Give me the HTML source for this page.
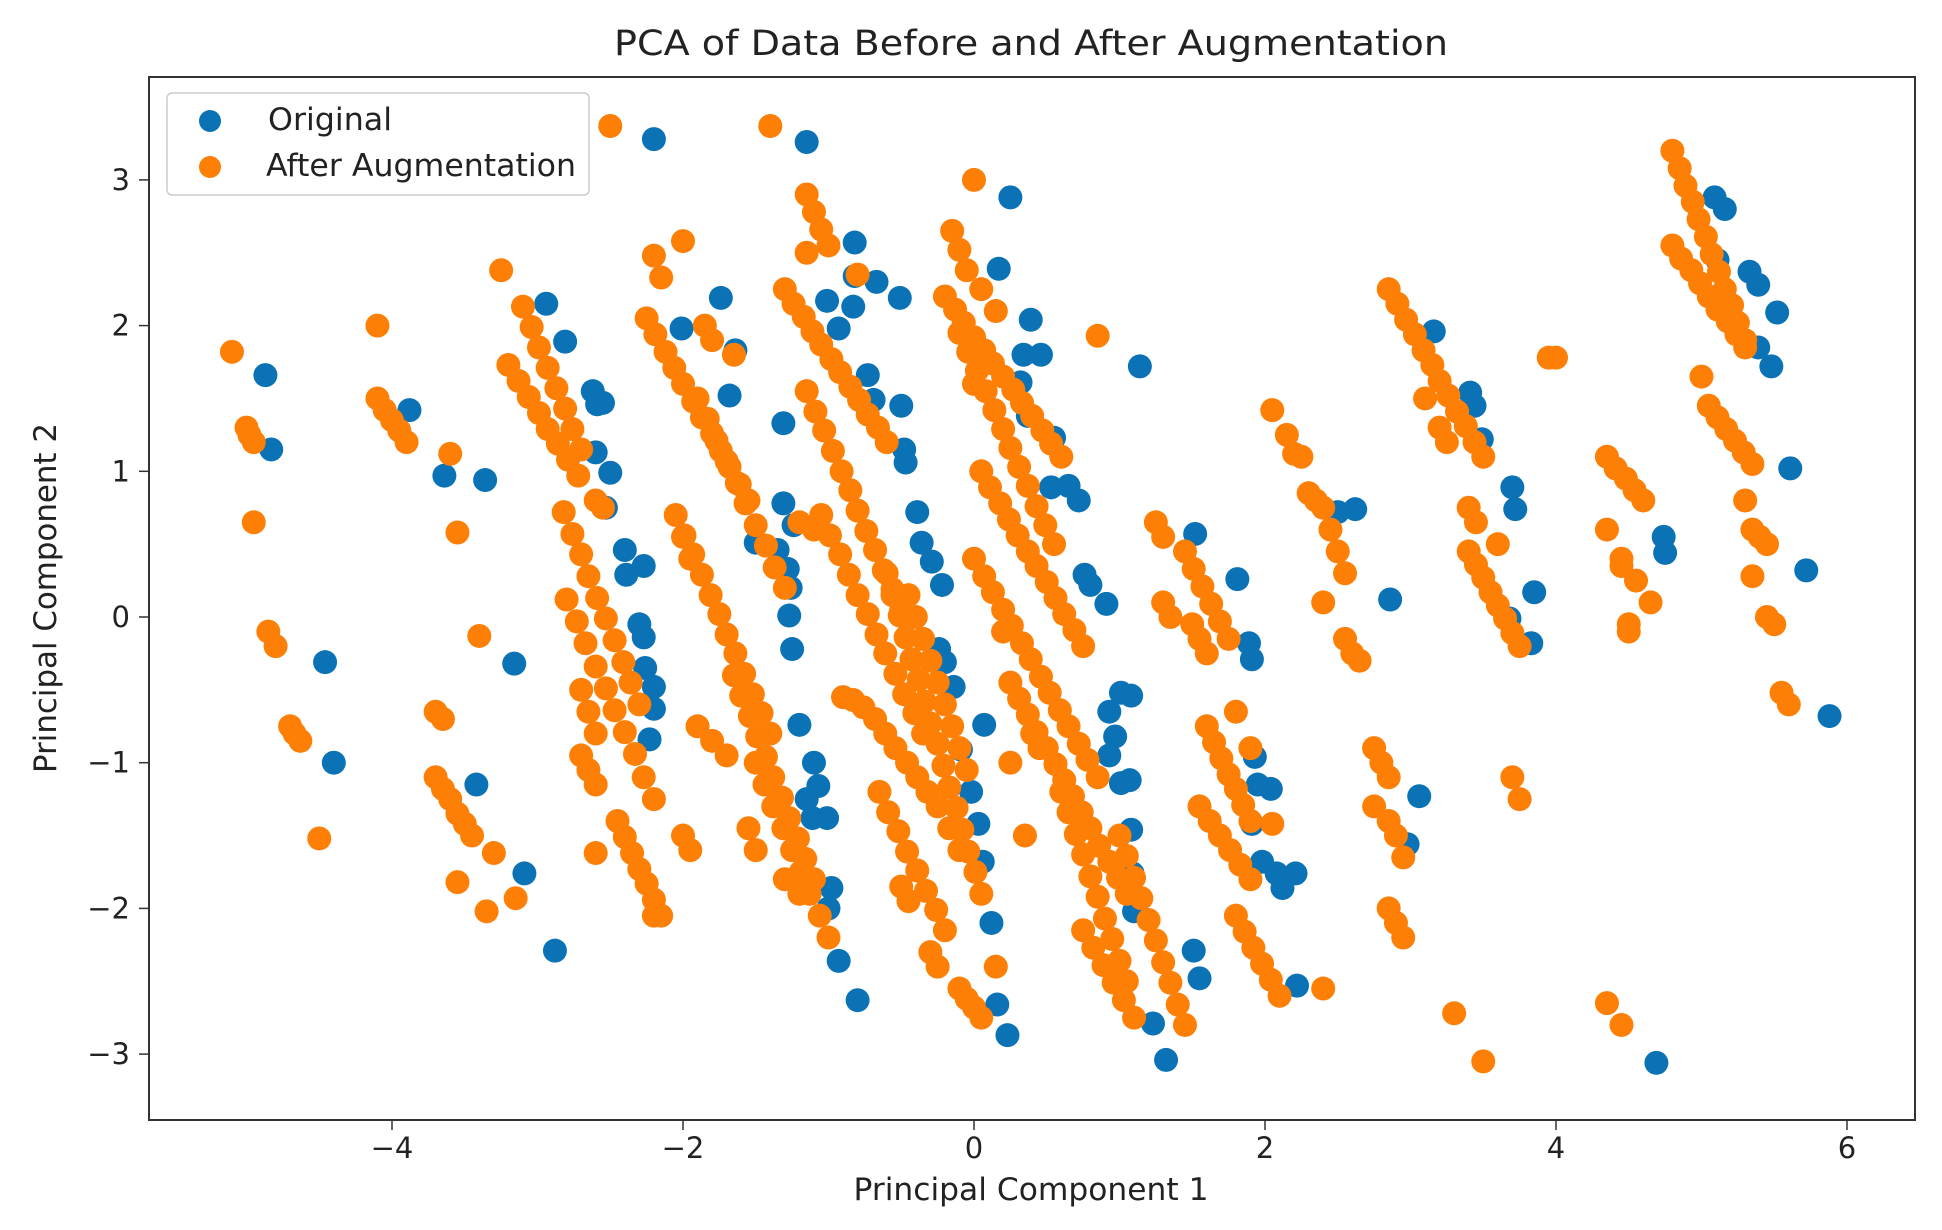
<!DOCTYPE html>
<html><head><meta charset="utf-8"><style>
html,body{margin:0;padding:0;background:#fff;}
svg{display:block;font-family:"DejaVu Sans","Liberation Sans",sans-serif;}
</style></head><body>
<svg id="chart" width="1942" height="1230" viewBox="0 0 1942 1230">
<rect x="0" y="0" width="1942" height="1230" fill="#fff"/>
<text x="1031" y="55" font-size="35" text-anchor="middle" fill="#222" textLength="834" lengthAdjust="spacingAndGlyphs">PCA of Data Before and After Augmentation</text>
<g id="marks-blue"></g>
<g id="marks-orange"></g>
<rect x="149" y="77" width="1766" height="1043" fill="none" stroke="#333" stroke-width="2"/>
<g id="xticks"></g>
<g id="yticks"></g>
<text x="1031" y="1200" font-size="31" text-anchor="middle" fill="#222" textLength="355" lengthAdjust="spacingAndGlyphs">Principal Component 1</text>
<text transform="translate(56,598) rotate(-90)" font-size="31" text-anchor="middle" fill="#222" textLength="350" lengthAdjust="spacingAndGlyphs">Principal Component 2</text>
<g>
<rect x="167" y="93" width="422" height="102" rx="5" fill="#fff" fill-opacity="0.85" stroke="#ccc" stroke-width="1.5"/>
<circle cx="210" cy="121" r="11" fill="#0a72b5"/>
<text x="268" y="130" font-size="31" fill="#222" textLength="124" lengthAdjust="spacingAndGlyphs">Original</text>
<circle cx="210" cy="167" r="11" fill="#fd7f06"/>
<text x="266" y="176" font-size="31" fill="#222" textLength="310" lengthAdjust="spacingAndGlyphs">After Augmentation</text>
</g>
</svg>
<script>
const xTicks = [-4, -2, 0, 2, 4, 6];
const yTicks = [-3, -2, -1, 0, 1, 2, 3];
const originalX = [-4.87,-4.83,-4.46,-4.40,-3.88,-3.64,-3.36,-3.42,-3.16,-3.09,-2.88,-2.94,-2.81,-2.62,-2.59,-2.55,-2.60,-2.50,-2.53,-2.40,-2.39,-2.27,-2.30,-2.27,-2.26,-2.20,-2.20,-2.23,-2.20,-2.01,-1.74,-1.64,-1.68,-1.50,-1.31,-1.31,-1.35,-1.28,-1.24,-1.26,-1.27,-1.25,-1.20,-1.10,-1.07,-1.15,-1.11,-1.01,-0.98,-1.00,-0.93,-0.80,-1.15,-1.01,-0.93,-0.82,-0.82,-0.83,-0.67,-0.51,-0.73,-0.69,-0.50,-0.47,-0.48,-0.39,-0.36,-0.29,-0.22,-0.24,-0.20,-0.14,0.07,-0.09,-0.02,0.03,0.06,0.12,0.16,0.23,0.25,0.17,0.39,0.46,0.34,0.32,0.37,0.55,0.53,0.65,0.72,0.76,0.80,0.91,1.01,1.08,0.93,0.97,0.93,1.01,1.07,1.08,1.09,1.10,1.23,1.32,1.14,1.52,1.81,1.89,1.91,1.93,1.95,2.04,1.91,1.98,2.08,2.12,2.21,2.22,1.51,1.55,2.50,2.62,2.86,3.06,2.98,3.16,3.41,3.44,3.49,3.70,3.72,3.85,3.83,3.68,4.69,4.74,4.75,5.09,5.16,5.11,5.33,5.39,5.39,5.52,5.48,5.61,5.72,5.88];
const originalY = [1.66,1.15,-0.31,-1.00,1.42,0.97,0.94,-1.15,-0.32,-1.76,-2.29,2.15,1.89,1.55,1.46,1.47,1.13,0.99,0.75,0.46,0.29,0.35,-0.05,-0.14,-0.35,-0.48,-0.63,-0.84,3.28,1.98,2.19,1.83,1.52,0.51,1.33,0.78,0.46,0.33,0.63,0.20,0.01,-0.22,-0.74,-1.00,-1.16,-1.25,-1.38,-1.38,-1.86,-2.00,-2.36,-2.63,3.26,2.17,1.98,2.57,2.34,2.13,2.30,2.19,1.66,1.49,1.45,1.06,1.15,0.72,0.51,0.38,0.22,-0.22,-0.31,-0.48,-0.74,-0.91,-1.20,-1.42,-1.68,-2.10,-2.66,-2.87,2.88,2.39,2.04,1.80,1.80,1.61,1.38,1.23,0.89,0.90,0.80,0.29,0.22,0.09,-0.52,-0.54,-0.65,-0.82,-0.95,-1.14,-1.12,-1.46,-1.76,-2.02,-2.79,-3.04,1.72,0.57,0.26,-0.18,-0.29,-0.96,-1.15,-1.18,-1.42,-1.68,-1.76,-1.86,-1.76,-2.53,-2.29,-2.48,0.72,0.74,0.12,-1.23,-1.56,1.96,1.54,1.45,1.22,0.89,0.74,0.17,-0.18,-0.01,-3.06,0.55,0.44,2.88,2.80,2.45,2.37,2.28,1.85,2.09,1.72,1.02,0.32,-0.68];
const augmentedX = [-5.10,-5.00,-4.98,-4.95,-4.95,-4.85,-4.80,-4.70,-4.67,-4.63,-4.50,-4.10,-4.10,-4.05,-4.00,-3.95,-3.90,-3.60,-3.55,-3.40,-3.70,-3.65,-3.70,-3.65,-3.60,-3.55,-3.50,-3.45,-3.55,-3.30,-3.35,-3.15,-3.25,
-3.10,-3.04,-2.99,-2.93,-2.87,-2.81,-2.76,-2.70,
-3.20,-3.13,-3.06,-2.99,-2.93,-2.86,-2.79,-2.72,
-2.82,-2.76,-2.70,-2.65,-2.59,-2.53,-2.47,-2.41,-2.36,-2.30,
-2.80,-2.73,-2.67,-2.60,-2.53,-2.47,-2.40,-2.33,-2.27,-2.20,
-2.70,-2.65,-2.60,-2.70,-2.65,-2.60,-2.60,
-2.45,-2.40,-2.35,-2.30,-2.25,-2.20,-2.15,-2.20,
-2.50,-2.60,-2.55,-2.20,-2.15,-2.00,
-2.25,-2.19,-2.12,-2.06,-2.00,-1.93,-1.87,-1.80,-1.74,-1.68,-1.61,-1.55,
-1.90,-1.83,-1.77,-1.70,-1.63,-1.57,-1.50,-1.43,-1.37,-1.30,
-2.05,-1.99,-1.93,-1.87,-1.81,-1.75,-1.70,-1.64,-1.58,-1.52,-1.46,-1.40,
-1.65,-1.60,-1.54,-1.49,-1.43,-1.38,-1.32,-1.27,-1.21,-1.16,-1.10,
-1.50,-1.44,-1.38,-1.31,-1.25,-1.19,-1.13,-1.06,-1.00,
-1.90,-1.80,-1.70,-1.55,-1.50,-1.30,-1.20,-2.00,-1.95,-1.40,-1.85,-1.80,-1.65,-2.00,-1.95,
-1.30,-1.24,-1.17,-1.11,-1.05,-0.98,-0.92,-0.85,-0.79,-0.73,-0.66,-0.60,
-1.15,-1.10,-1.05,-1.00,-1.15,-0.80,
-1.15,-1.09,-1.03,-0.97,-0.91,-0.85,-0.80,-0.74,-0.68,-0.62,-0.56,-0.50,
-1.05,-0.99,-0.92,-0.86,-0.80,-0.73,-0.67,-0.61,-0.54,-0.48,-0.41,-0.35,
-0.90,-0.83,-0.76,-0.68,-0.61,-0.54,-0.46,-0.39,-0.32,-0.25,-0.17,-0.10,
-0.60,-0.56,-0.51,-0.47,-0.43,-0.38,-0.34,-0.30,-0.25,-0.21,-0.17,-0.12,-0.08,-0.04,0.01,0.05,
-0.45,-0.40,-0.35,-0.30,-0.25,-0.20,-0.15,-0.10,-0.05,
-0.65,-0.59,-0.52,-0.46,-0.39,-0.33,-0.26,-0.20,
-0.50,-0.45,-0.30,-0.25,-0.10,-0.05,0.00,0.05,0.15,-1.20,-1.10,
-0.15,-0.10,-0.05,0.05,0.15,0.00,
-0.20,-0.13,-0.07,0.00,0.07,0.13,0.20,0.27,0.33,0.40,0.47,0.53,0.60,
-0.10,-0.04,0.02,0.08,0.14,0.20,0.25,0.31,0.37,0.43,0.49,0.55,
0.05,0.11,0.18,0.24,0.30,0.37,0.43,0.50,0.56,0.62,0.69,0.75,
0.00,0.07,0.13,0.20,0.26,0.33,0.39,0.46,0.52,0.59,0.65,0.72,0.78,0.85,
0.25,0.31,0.37,0.43,0.50,0.56,0.62,0.68,0.74,0.80,0.86,0.93,0.99,1.05,
0.60,0.65,0.70,0.75,0.80,0.85,0.90,0.95,1.00,1.05,
0.75,0.82,0.89,0.96,1.03,1.10,
0.25,0.35,0.00,0.85,0.20,0.40,0.45,
1.00,1.05,1.10,1.15,1.20,1.25,1.30,1.35,1.40,1.45,
1.25,1.30,1.30,1.35,
1.45,1.51,1.57,1.63,1.69,1.75,1.50,1.55,1.60,
1.60,1.65,1.70,1.75,1.80,1.85,1.90,1.55,1.62,1.69,1.76,1.83,1.90,
1.80,1.86,1.92,1.98,2.04,2.10,2.40,
2.05,1.80,1.90,
2.05,2.15,2.20,2.25,2.30,2.35,2.40,2.45,2.50,2.55,2.40,2.55,2.60,2.65,2.75,2.80,2.85,2.75,2.85,2.90,2.95,2.85,2.90,2.95,3.30,3.50,
2.85,2.91,2.97,3.03,3.09,3.15,3.20,3.26,3.32,3.38,3.44,3.50,3.10,3.20,3.25,
3.40,3.45,3.40,3.45,3.50,3.55,3.60,3.65,3.70,3.75,3.60,3.70,3.75,
3.95,4.00,
4.35,4.41,4.48,4.54,4.60,4.35,4.45,4.45,4.55,4.50,4.50,4.65,4.35,4.45,
4.80,4.85,4.89,4.94,4.98,5.03,5.07,5.12,5.16,5.21,5.25,5.30,
4.80,4.86,4.93,4.99,5.05,5.11,5.18,5.24,5.30,
5.00,5.05,5.11,5.17,5.23,5.29,5.35,5.30,5.35,5.40,5.45,5.35,5.45,5.50,5.55,5.60];
const augmentedY = [1.82,1.30,1.25,1.20,0.65,-0.10,-0.20,-0.75,-0.80,-0.85,-1.52,2.00,1.50,1.42,1.35,1.28,1.20,1.12,0.58,-0.13,-0.65,-0.70,-1.10,-1.18,-1.25,-1.35,-1.42,-1.50,-1.82,-1.62,-2.02,-1.93,2.38,
2.13,1.99,1.85,1.71,1.57,1.43,1.29,1.15,
1.73,1.62,1.51,1.40,1.29,1.19,1.08,0.97,
0.72,0.57,0.43,0.28,0.13,-0.01,-0.16,-0.31,-0.45,-0.60,
0.12,-0.03,-0.18,-0.34,-0.49,-0.64,-0.79,-0.94,-1.10,-1.25,
-0.50,-0.65,-0.80,-0.95,-1.05,-1.15,-1.62,
-1.40,-1.51,-1.62,-1.73,-1.83,-1.94,-2.05,-2.05,
3.37,0.80,0.75,2.48,2.33,2.58,
2.05,1.94,1.82,1.71,1.60,1.48,1.37,1.26,1.14,1.03,0.91,0.80,
1.50,1.36,1.21,1.07,0.92,0.78,0.63,0.49,0.34,0.20,
0.70,0.56,0.43,0.29,0.15,0.02,-0.12,-0.25,-0.39,-0.53,-0.66,-0.80,
-0.40,-0.54,-0.68,-0.82,-0.96,-1.10,-1.24,-1.38,-1.52,-1.66,-1.80,
-1.00,-1.15,-1.30,-1.45,-1.60,-1.75,-1.90,-2.05,-2.20,
-0.75,-0.85,-0.95,-1.45,-1.60,-1.80,-1.90,-1.50,-1.60,3.37,2.00,1.90,1.80,0.55,0.40,
2.25,2.15,2.06,1.96,1.87,1.77,1.68,1.58,1.49,1.39,1.30,1.20,
2.90,2.78,2.66,2.55,2.50,2.35,
1.55,1.41,1.28,1.14,1.00,0.87,0.73,0.59,0.46,0.32,0.19,0.05,
0.70,0.56,0.43,0.29,0.15,0.02,-0.12,-0.25,-0.39,-0.53,-0.66,-0.80,
-0.55,-0.57,-0.62,-0.70,-0.80,-0.90,-1.00,-1.10,-1.20,-1.30,-1.45,-1.60,
0.30,0.15,0.01,-0.14,-0.29,-0.43,-0.58,-0.73,-0.87,-1.02,-1.17,-1.31,-1.46,-1.61,-1.75,-1.90,
0.15,0.00,-0.15,-0.30,-0.45,-0.60,-0.75,-0.90,-1.05,
-1.20,-1.34,-1.47,-1.61,-1.74,-1.88,-2.01,-2.15,
-1.85,-1.95,-2.30,-2.40,-2.55,-2.62,-2.68,-2.75,-2.40,0.65,0.60,
2.65,2.52,2.38,2.25,2.10,3.00,
2.20,2.11,2.02,1.92,1.83,1.74,1.65,1.56,1.47,1.38,1.28,1.19,1.10,
1.95,1.82,1.69,1.55,1.42,1.29,1.16,1.03,0.90,0.76,0.63,0.50,
1.00,0.89,0.78,0.67,0.56,0.45,0.35,0.24,0.13,0.02,-0.09,-0.20,
0.40,0.28,0.17,0.05,-0.06,-0.18,-0.29,-0.41,-0.52,-0.64,-0.75,-0.87,-0.98,-1.10,
-0.45,-0.56,-0.67,-0.79,-0.90,-1.01,-1.12,-1.23,-1.34,-1.45,-1.57,-1.68,-1.79,-1.90,
-1.20,-1.34,-1.49,-1.63,-1.78,-1.92,-2.07,-2.21,-2.36,-2.50,
-2.15,-2.27,-2.39,-2.51,-2.63,-2.75,
-1.00,-1.50,1.60,1.93,-0.10,-0.80,-0.90,
-1.50,-1.64,-1.79,-1.93,-2.08,-2.22,-2.37,-2.51,-2.66,-2.80,
0.65,0.55,0.10,0.00,
0.45,0.33,0.21,0.09,-0.03,-0.15,-0.05,-0.15,-0.25,
-0.75,-0.86,-0.97,-1.08,-1.18,-1.29,-1.40,-1.30,-1.40,-1.50,-1.60,-1.70,-1.80,
-2.05,-2.16,-2.27,-2.38,-2.49,-2.60,-2.55,
-1.42,-0.65,-0.90,
1.42,1.25,1.12,1.10,0.85,0.80,0.75,0.60,0.45,0.30,0.10,-0.15,-0.25,-0.30,-0.90,-1.00,-1.10,-1.30,-1.40,-1.50,-1.65,-2.00,-2.10,-2.20,-2.72,-3.05,
2.25,2.15,2.04,1.94,1.83,1.73,1.62,1.52,1.41,1.31,1.20,1.10,1.50,1.30,1.20,
0.75,0.65,0.45,0.36,0.27,0.17,0.08,-0.01,-0.11,-0.20,0.50,-1.10,-1.25,
1.78,1.78,
1.10,1.02,0.95,0.87,0.80,0.60,0.40,0.35,0.25,-0.05,-0.10,0.10,-2.65,-2.80,
3.20,3.08,2.96,2.85,2.73,2.61,2.49,2.37,2.25,2.14,2.02,1.90,
2.55,2.46,2.38,2.29,2.20,2.11,2.03,1.94,1.85,
1.65,1.45,1.37,1.29,1.21,1.13,1.05,0.80,0.60,0.55,0.50,0.28,0.00,-0.05,-0.52,-0.60];

const NS = 'http://www.w3.org/2000/svg';
function xScale(v){ return 974 + v * 145.5; }
function yScale(v){ return 617 - v * 145.7; }
function fmt(v){ return v < 0 ? '\u2212' + Math.abs(v) : String(v); }

const gB = document.getElementById('marks-blue');
for (let i = 0; i < originalX.length; i++) {
  const c = document.createElementNS(NS, 'circle');
  c.setAttribute('cx', xScale(originalX[i]));
  c.setAttribute('cy', yScale(originalY[i]));
  c.setAttribute('r', 12);
  c.setAttribute('fill', '#0a72b5');
  
  
  gB.appendChild(c);
}
const gO = document.getElementById('marks-orange');
for (let i = 0; i < augmentedX.length; i++) {
  const c = document.createElementNS(NS, 'circle');
  c.setAttribute('cx', xScale(augmentedX[i]));
  c.setAttribute('cy', yScale(augmentedY[i]));
  c.setAttribute('r', 12);
  c.setAttribute('fill', '#fd7f06');
  
  
  gO.appendChild(c);
}
const gx = document.getElementById('xticks');
xTicks.forEach(function(t){
  const x = xScale(t);
  const l = document.createElementNS(NS, 'line');
  l.setAttribute('x1', x); l.setAttribute('x2', x);
  l.setAttribute('y1', 1120); l.setAttribute('y2', 1130);
  l.setAttribute('stroke', '#333'); l.setAttribute('stroke-width', '1.5');
  
  
  gx.appendChild(l);
  const tx = document.createElementNS(NS, 'text');
  tx.setAttribute('x', x); tx.setAttribute('y', 1158);
  tx.setAttribute('font-size', '29'); tx.setAttribute('text-anchor', 'middle'); tx.setAttribute('fill', '#222');
  tx.textContent = fmt(t);
  
  
  gx.appendChild(tx);
});
const gy = document.getElementById('yticks');
yTicks.forEach(function(t){
  const y = yScale(t);
  const l = document.createElementNS(NS, 'line');
  l.setAttribute('x1', 139); l.setAttribute('x2', 149);
  l.setAttribute('y1', y); l.setAttribute('y2', y);
  l.setAttribute('stroke', '#333'); l.setAttribute('stroke-width', '1.5');
  
  
  gy.appendChild(l);
  const tx = document.createElementNS(NS, 'text');
  tx.setAttribute('x', 130); tx.setAttribute('y', y + 10);
  tx.setAttribute('font-size', '29'); tx.setAttribute('text-anchor', 'end'); tx.setAttribute('fill', '#222');
  tx.textContent = fmt(t);
  
  
  gy.appendChild(tx);
});
</script>
</body></html>
